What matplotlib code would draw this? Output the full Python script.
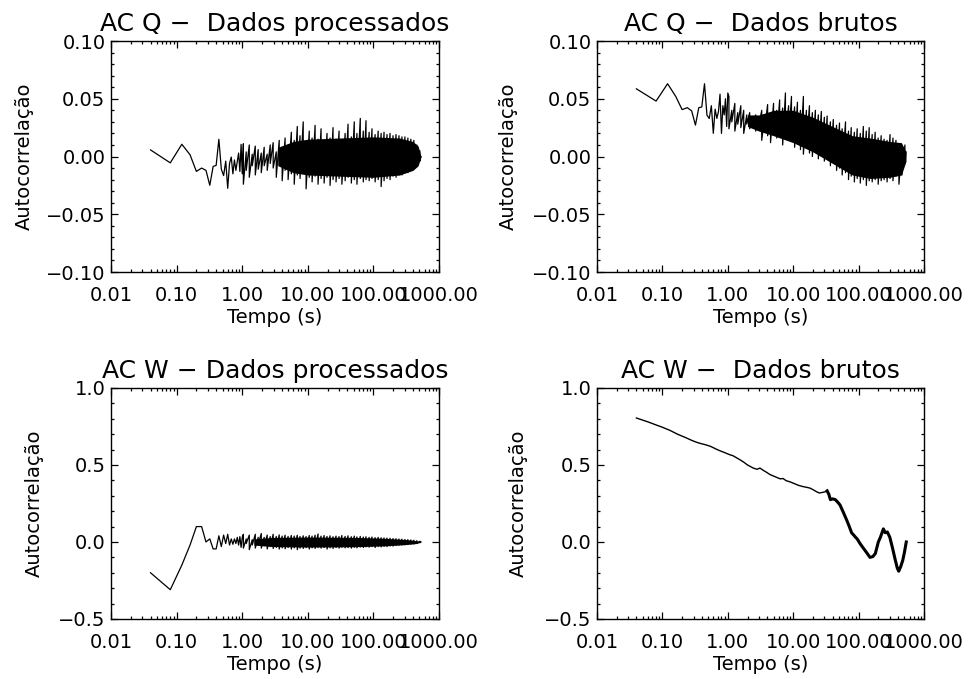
import numpy as np
import matplotlib
matplotlib.use('Agg')
from matplotlib import pyplot as plt
from matplotlib.ticker import MultipleLocator, LogLocator, FuncFormatter, NullFormatter

plt.rcParams['font.family'] = 'DejaVu Sans'

# first samples, resolved one by one (dt = 0.04 s)
t_early = [0.04, 0.08, 0.12, 0.16, 0.20, 0.24, 0.28, 0.32, 0.36, 0.40, 0.44, 0.48, 0.52,
           0.56, 0.60, 0.64, 0.68, 0.72, 0.76, 0.80, 0.84, 0.88, 0.92, 0.96, 1.00]

q_proc_early = [0.0057, -0.0055, 0.0106, 0.0015, -0.0129, -0.0100, -0.0120, -0.0249, -0.0086,
                -0.0077, 0.0149, -0.0110, -0.0165, -0.0040, -0.0275, -0.0060, -0.0005, -0.0150,
                -0.0030, -0.0120, -0.0040, 0.0030, -0.0130, 0.0105, -0.0150]
q_raw_early = [0.0586, 0.048, 0.063, 0.052, 0.0406, 0.0423, 0.0395, 0.0272, 0.0423, 0.0429,
               0.063, 0.0358, 0.0329, 0.044, 0.0201, 0.041, 0.033, 0.039, 0.054, 0.020,
               0.044, 0.036, 0.050, 0.026, 0.055]
w_proc_early = [-0.20, -0.31, -0.15, -0.02, 0.10, 0.10, 0.00, 0.02, -0.045, -0.045, 0.04,
                -0.03, 0.045, -0.01, 0.05, -0.02, 0.02, -0.015, 0.02, -0.01, 0.03, -0.02,
                0.035, -0.035, 0.03]

# dense part: upper / lower excursions read at these times
t_grid = [1.04, 1.15, 1.28, 1.42, 1.58, 1.75, 1.95, 2.16, 2.4, 2.67, 2.96, 3.3, 3.66, 4.06,
          4.5, 5.0, 5.6, 6.2, 6.9, 7.6, 8.5, 9.4, 10.5, 11.6, 12.9, 14.3, 15.9, 17.7, 19.6,
          21.8, 24.2, 26.9, 29.9, 33, 37, 41, 46, 51, 56, 63, 70, 77, 86, 95, 106, 118, 131,
          145, 161, 179, 199, 221, 245, 272, 302, 335, 372, 413, 459, 510]
t_end = 530.0

q_proc_hi = [0.011, 0.004, 0.010, 0.002, 0.009, 0.006, 0.003, 0.008, 0.002, 0.010, 0.012,
             0.004, 0.014, 0.006, 0.016, 0.010, 0.021, 0.014, 0.026, 0.018, 0.030, 0.012,
             0.022, 0.016, 0.027, 0.015, 0.024, 0.013, 0.020, 0.016, 0.025, 0.015, 0.022,
             0.014, 0.020, 0.028, 0.017, 0.030, 0.020, 0.033, 0.022, 0.031, 0.021, 0.024,
             0.019, 0.022, 0.020, 0.021, 0.019, 0.020, 0.018, 0.019, 0.018, 0.017, 0.017,
             0.016, 0.015, 0.014, 0.010, 0.005]
q_proc_lo = [-0.024, -0.012, -0.018, -0.008, -0.016, -0.011, -0.014, -0.008, -0.012, -0.006,
             -0.010, -0.018, -0.008, -0.021, -0.012, -0.020, -0.015, -0.024, -0.016, -0.019,
             -0.014, -0.028, -0.018, -0.022, -0.017, -0.024, -0.019, -0.023, -0.018, -0.025,
             -0.020, -0.022, -0.019, -0.024, -0.021, -0.018, -0.023, -0.020, -0.024, -0.019,
             -0.022, -0.020, -0.021, -0.019, -0.022, -0.020, -0.026, -0.021, -0.019, -0.020,
             -0.017, -0.018, -0.016, -0.016, -0.014, -0.014, -0.012, -0.010, -0.008, -0.004]

q_raw_hi = [0.052, 0.040, 0.046, 0.038, 0.044, 0.040, 0.036, 0.038, 0.034, 0.036, 0.033,
            0.040, 0.035, 0.045, 0.038, 0.046, 0.040, 0.049, 0.042, 0.055, 0.044, 0.052,
            0.043, 0.047, 0.040, 0.052, 0.040, 0.044, 0.038, 0.040, 0.036, 0.039, 0.034,
            0.035, 0.030, 0.032, 0.027, 0.029, 0.024, 0.030, 0.022, 0.025, 0.021, 0.024,
            0.020, 0.026, 0.022, 0.025, 0.019, 0.021, 0.016, 0.018, 0.015, 0.014, 0.019,
            0.016, 0.014, 0.010, 0.008, 0.010]
q_raw_lo = [0.024, 0.030, 0.022, 0.028, 0.025, 0.020, 0.028, 0.024, 0.030, 0.022, 0.026,
            0.014, 0.024, 0.018, 0.012, 0.022, 0.016, 0.020, 0.010, 0.018, 0.014, 0.016,
            0.008, 0.012, 0.006, 0.002, 0.008, 0.003, 0.000, 0.004, -0.002, 0.001, -0.004,
            -0.002, -0.008, -0.004, -0.012, -0.010, -0.016, -0.014, -0.020, -0.017, -0.022,
            -0.019, -0.023, -0.020, -0.025, -0.021, -0.022, -0.020, -0.024, -0.021, -0.020,
            -0.022, -0.019, -0.021, -0.017, -0.024, -0.016, -0.006]

w_proc_hi = [0.05, 0.02, 0.045, 0.015, 0.05, 0.03, 0.055, 0.03, 0.045, 0.035, 0.05, 0.036,
             0.046, 0.038, 0.044, 0.036, 0.042, 0.038, 0.044, 0.036, 0.040, 0.035, 0.042, 0.038,
             0.044, 0.052, 0.038, 0.042, 0.036, 0.040, 0.034, 0.038, 0.035, 0.042, 0.036, 0.040,
             0.034, 0.038, 0.033, 0.036, 0.032, 0.034, 0.030, 0.032, 0.028, 0.030, 0.027, 0.026,
             0.025, 0.024, 0.022, 0.021, 0.019, 0.018, 0.016, 0.015, 0.013, 0.011, 0.008, 0.005]
w_proc_lo = [-0.04, -0.01, -0.05, -0.02, -0.04, -0.015, -0.04, -0.025, -0.045, -0.03, -0.042,
             -0.035, -0.046, -0.038, -0.044, -0.036, -0.046, -0.038, -0.05, -0.04, -0.042,
             -0.037, -0.046, -0.038, -0.042, -0.036, -0.040, -0.036, -0.046, -0.038, -0.042,
             -0.036, -0.040, -0.034, -0.038, -0.036, -0.040, -0.034, -0.038, -0.033, -0.036,
             -0.032, -0.034, -0.030, -0.036, -0.030, -0.032, -0.028, -0.030, -0.026, -0.027,
             -0.023, -0.022, -0.020, -0.019, -0.017, -0.015, -0.013, -0.010, -0.005]

# solid core of the dense band
q_proc_core_t = [3.5, 6, 10, 30, 100, 250, 400, 480, 530]
q_proc_core_hi = [0.008, 0.013, 0.015, 0.016, 0.017, 0.016, 0.013, 0.009, 0.0]
q_proc_core_lo = [-0.008, -0.014, -0.016, -0.017, -0.018, -0.016, -0.012, -0.008, 0.0]

q_raw_core_t = [2.0, 3, 5, 10, 20, 40, 80, 150, 300, 450, 530]
q_raw_core_hi = [0.036, 0.036, 0.040, 0.040, 0.034, 0.026, 0.018, 0.016, 0.013, 0.012, 0.004]
q_raw_core_lo = [0.026, 0.022, 0.018, 0.012, 0.004, -0.006, -0.016, -0.019, -0.018, -0.016, -0.004]

w_proc_core_t = [1.5, 3, 10, 50, 150, 300, 450, 530]
w_proc_core_hi = [0.020, 0.030, 0.032, 0.030, 0.024, 0.016, 0.009, 0.0]
w_proc_core_lo = [-0.020, -0.030, -0.033, -0.031, -0.025, -0.017, -0.010, 0.0]

# raw W autocorrelation (smooth)
w_raw_t = [0.04, 0.06, 0.08, 0.10, 0.13, 0.17, 0.22, 0.28, 0.33, 0.38, 0.45, 0.50, 0.55, 0.65,
           0.76, 0.9, 1.05, 1.2, 1.45, 1.73, 2.0, 2.45, 2.8, 3.1, 3.4, 4.0, 4.4, 5.2, 6.3, 7.0,
           7.8, 9.0, 10.0, 12.0, 14.0, 16.0, 18.0, 20.0, 22.8, 25.0, 28.0, 31.0, 33.0, 35.0,
           37.0, 40.0, 44.0, 48.0, 52.0, 58.0, 66.0, 72.0, 78.0, 84.0, 90.0, 95.0, 105.0,
           118.0, 133.0, 149.0, 165.0, 180.0, 200.0, 215.0, 239.0, 255.0, 275.0, 300.0,
           330.0, 360.0, 390.0, 410.0, 440.0, 472.0, 500.0, 535.0]
w_raw_v = [0.805, 0.78, 0.76, 0.745, 0.725, 0.70, 0.68, 0.66, 0.648, 0.64, 0.632, 0.626, 0.62,
           0.605, 0.592, 0.58, 0.568, 0.56, 0.54, 0.52, 0.50, 0.48, 0.472, 0.48, 0.468, 0.45,
           0.438, 0.425, 0.41, 0.412, 0.398, 0.39, 0.382, 0.368, 0.36, 0.355, 0.35, 0.34,
           0.326, 0.318, 0.322, 0.326, 0.332, 0.31, 0.275, 0.28, 0.275, 0.258, 0.24, 0.195,
           0.14, 0.10, 0.06, 0.045, 0.03, 0.02, -0.01, -0.04, -0.07, -0.10, -0.095, -0.075,
           0.0, 0.03, 0.085, 0.06, 0.065, 0.03, -0.04, -0.11, -0.17, -0.19, -0.16, -0.12,
           -0.07, 0.0]

x_ticks = [0.01, 0.1, 1, 10, 100, 1000]


def minus_fmt(fmt):
    return FuncFormatter(lambda v, pos: (fmt % v).replace('-', '\u2212'))


def setup_axes(ax, title, ylim, major, minor, fmt):
    ax.set_xscale('log')
    ax.set_xlim(0.01, 1000)
    ax.set_ylim(*ylim)
    ax.set_xticks(x_ticks)
    ax.xaxis.set_major_formatter(FuncFormatter(lambda v, pos: '%.2f' % v))
    ax.xaxis.set_minor_locator(LogLocator(base=10, subs=np.arange(2, 10)))
    ax.xaxis.set_minor_formatter(NullFormatter())
    ax.yaxis.set_major_locator(MultipleLocator(major))
    ax.yaxis.set_minor_locator(MultipleLocator(minor))
    ax.yaxis.set_major_formatter(minus_fmt(fmt))
    ax.tick_params(which='both', direction='in', top=True, right=True, width=0.9)
    ax.tick_params(which='major', length=5)
    ax.tick_params(which='minor', length=2.5)
    ax.tick_params(axis='x', which='major', pad=10, labelsize=14)
    ax.tick_params(axis='y', which='major', pad=4, labelsize=14)
    for s in ax.spines.values():
        s.set_linewidth(1.0)
    ax.set_title(title, fontsize=18, pad=7)
    ax.set_xlabel('Tempo (s)', fontsize=14, labelpad=2)
    ax.set_ylabel('Autocorrelação', fontsize=14)
    ax.yaxis.label.set_verticalalignment('center')


def zigzag(ax, early, hi, lo, end_val, core_t, core_hi, core_lo):
    tz = np.repeat(t_grid, 2)
    yz = np.column_stack([hi, lo]).ravel()
    t_all = np.concatenate([t_early, tz, [t_end]])
    y_all = np.concatenate([early, yz, [end_val]])
    ax.fill_between(core_t, core_lo, core_hi, color='black', lw=0)
    ax.plot(t_all, y_all, color='black', lw=0.9)


fig = plt.figure(figsize=(9.69, 6.79), dpi=100)
ax1 = fig.add_axes([0.1146, 0.5994, 0.3385, 0.3402])
ax2 = fig.add_axes([0.6161, 0.5994, 0.3375, 0.3402])
ax3 = fig.add_axes([0.1146, 0.0884, 0.3385, 0.3402])
ax4 = fig.add_axes([0.6161, 0.0884, 0.3375, 0.3402])

setup_axes(ax1, 'AC Q \u2212  Dados processados', (-0.10, 0.10), 0.05, 0.01, '%.2f')
setup_axes(ax2, 'AC Q \u2212  Dados brutos', (-0.10, 0.10), 0.05, 0.01, '%.2f')
setup_axes(ax3, 'AC W \u2212 Dados processados', (-0.5, 1.0), 0.5, 0.1, '%.1f')
setup_axes(ax4, 'AC W \u2212  Dados brutos', (-0.5, 1.0), 0.5, 0.1, '%.1f')

zigzag(ax1, q_proc_early, q_proc_hi, q_proc_lo, 0.0, q_proc_core_t, q_proc_core_hi, q_proc_core_lo)
zigzag(ax2, q_raw_early, q_raw_hi, q_raw_lo, 0.004, q_raw_core_t, q_raw_core_hi, q_raw_core_lo)
zigzag(ax3, w_proc_early, w_proc_hi, w_proc_lo, 0.0, w_proc_core_t, w_proc_core_hi, w_proc_core_lo)

w_raw_t = np.array(w_raw_t)
w_raw_v = np.array(w_raw_v)
ax4.plot(w_raw_t, w_raw_v, color='black', lw=1.0)
late = w_raw_t >= 33
ax4.plot(w_raw_t[late], w_raw_v[late], color='black', lw=2.2)

ax1.yaxis.set_label_coords(-0.265, 0.5)
ax2.yaxis.set_label_coords(-0.27, 0.5)
ax3.yaxis.set_label_coords(-0.235, 0.5)
ax4.yaxis.set_label_coords(-0.24, 0.5)

fig.savefig('out.png', dpi=100)
